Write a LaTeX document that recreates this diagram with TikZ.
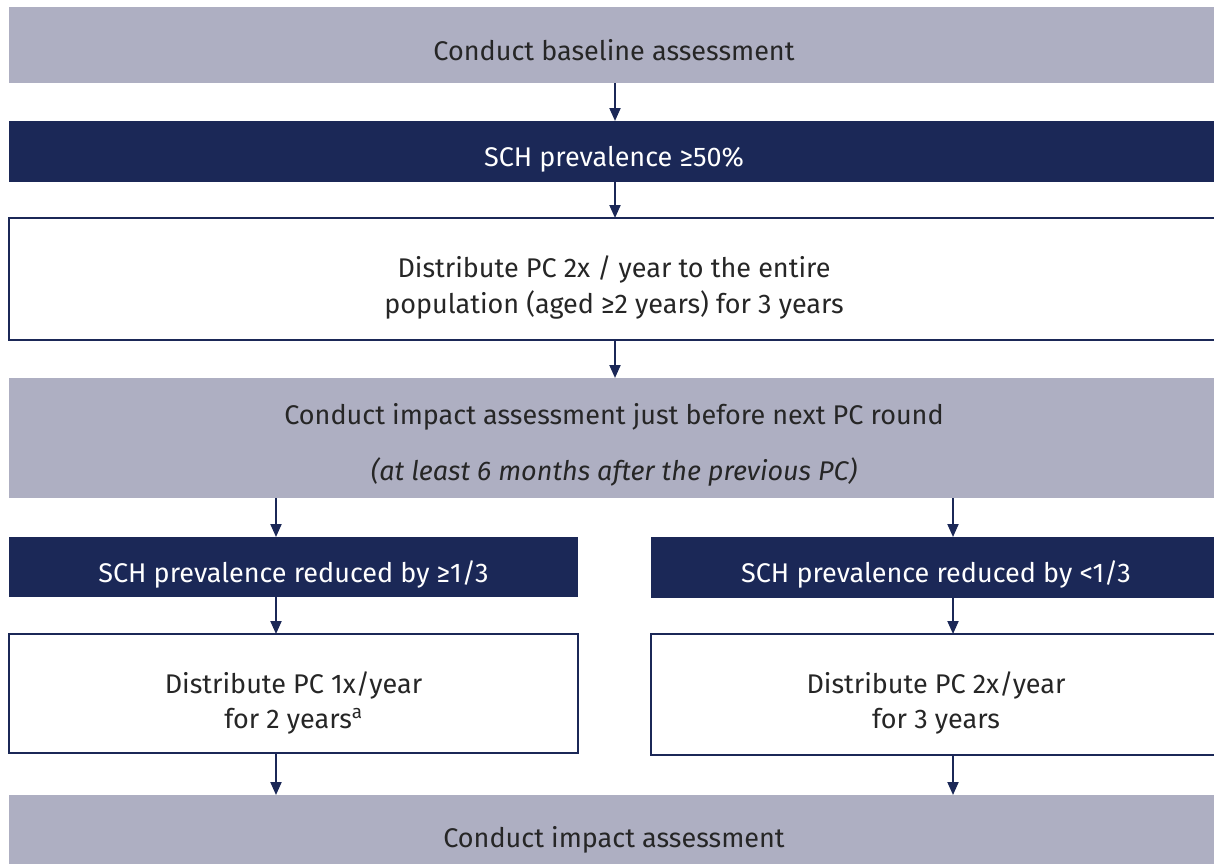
\documentclass[tikz,border=0pt]{standalone}
\usepackage{fontspec}
\setmainfont{Fira Sans}
\usetikzlibrary{arrows.meta}
\definecolor{navy}{HTML}{1B2857}
\definecolor{lgray}{HTML}{AEAFC2}
\definecolor{txt}{HTML}{262626}
\tikzset{
  x=1pt,y=-1pt,
  base/.style={inner sep=0pt,outer sep=0pt,anchor=north west},
  graybox/.style={base,fill=lgray},
  navybox/.style={base,fill=navy},
  whitebox/.style={base,fill=white,draw=navy,line width=2.5pt},
  lbl/.style={inner sep=0pt,anchor=base,font=\fontsize{27}{35}\selectfont,text=txt},
  wlbl/.style={lbl,text=white},
  arr/.style={draw=navy,line width=2pt,-{Triangle[length=13pt,width=11pt]}}
}
\begin{document}
\begin{tikzpicture}
\useasboundingbox (0,0) rectangle (1214,863);
\clip (0,0) rectangle (1214,863);
\fill[white] (0,0) rectangle (1214,863);
\node[graybox,minimum width=1215,minimum height=76] (b1) at (9,7) {};
\node[navybox,minimum width=1215,minimum height=61] (b2) at (9,121) {};
\node[whitebox,minimum width=1215,minimum height=122] (b3) at (9,218) {};
\node[graybox,minimum width=1215,minimum height=120] (b4) at (9,378) {};
\node[navybox,minimum width=569,minimum height=60] (b5l) at (9,537) {};
\node[navybox,minimum width=571,minimum height=61] (b5r) at (651,537) {};
\node[whitebox,minimum width=569,minimum height=119] (b6l) at (9,634) {};
\node[whitebox,minimum width=571,minimum height=121] (b6r) at (651,634) {};
\node[graybox,minimum width=1215,minimum height=80] (b7) at (9,795) {};
% labels
\node[lbl] (t1) at (614,60) {Conduct baseline assessment};
\node[wlbl] (t2) at (614,166) {SCH prevalence ≥50\%};
\node[lbl] (t3a) at (614,277) {Distribute PC 2x / year to the entire};
\node[lbl] (t3b) at (614,313) {population (aged ≥2 years) for 3 years};
\node[lbl] (t4a) at (614,424) {Conduct impact assessment just before next PC round};
\node[lbl,font=\fontsize{27}{35}\selectfont\itshape] (t4b) at (614,480) {(at least 6 months after the previous PC)};
\node[wlbl] (t5l) at (293.5,582) {SCH prevalence reduced by ≥1/3};
\node[wlbl] (t5r) at (936,582) {SCH prevalence reduced by <1/3};
\node[lbl] (t6la) at (293.5,693) {Distribute PC 1x/year};
\node[lbl] (t6lb) at (293.5,728) {for 2 years\textsuperscript{a}};
\node[lbl] (t6ra) at (936,693) {Distribute PC 2x/year};
\node[lbl] (t6rb) at (936,728) {for 3 years};
\node[lbl] (t7) at (614,847) {Conduct impact assessment};
% connectors
\coordinate (xc) at (615,0);
\coordinate (xl) at (276,0);
\coordinate (xr) at (953,0);
\draw[arr] (b1.south -| xc) -- (b2.north -| xc);
\draw[arr] (b2.south -| xc) -- (b3.north -| xc);
\draw[arr] (b3.south -| xc) -- (b4.north -| xc);
\draw[arr] (b4.south -| xl) -- (b5l.north -| xl);
\draw[arr] (b4.south -| xr) -- (b5r.north -| xr);
\draw[arr] (b5l.south -| xl) -- (b6l.north -| xl);
\draw[arr] (b5r.south -| xr) -- (b6r.north -| xr);
\draw[arr] (b6l.south -| xl) -- (b7.north -| xl);
\draw[arr] (b6r.south -| xr) -- (b7.north -| xr);
\end{tikzpicture}
\end{document}
